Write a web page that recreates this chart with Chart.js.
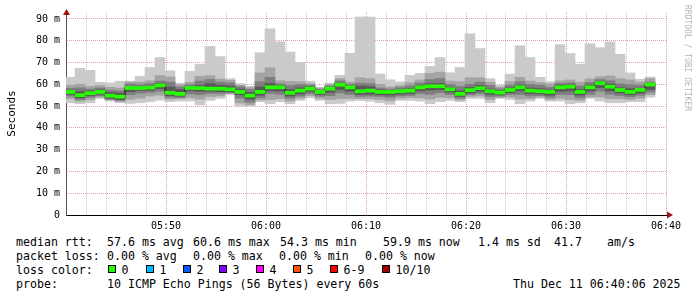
<!DOCTYPE html>
<html>
<head>
<meta charset="utf-8">
<script src="https://cdn.jsdelivr.net/npm/chart.js@4/dist/chart.umd.min.js"></script>
<style>
  body { margin: 0; background: #fff; }
  #wrap { position: relative; width: 697px; height: 297px; overflow: hidden; font-family: "DejaVu Sans Mono", monospace; }
  #chartBox { position: absolute; left: 0; top: 0; width: 697px; height: 232px; }
  .t { position: absolute; font-size: 11.6px; line-height: 14px; white-space: pre; color: #000; }
  .sq { position: absolute; width: 6px; height: 6px; border: 1px solid #000; }
  #credit { position: absolute; left: 682px; top: 5px; writing-mode: vertical-rl; font-size: 8px; line-height: 10px; color: #b4b4b4; white-space: pre; }
</style>
</head>
<body>
<div id="wrap">
  <div id="chartBox"><canvas id="chart"></canvas></div>
  <div id="credit">RRDTOOL / TOBI OETIKER</div>
  <div id="legend"></div>
</div>
<script>
// one bar per minute, 05:40 -> 06:39 (10 pings each, sorted low to high)
const pingMax = [63.2,67.3,66.4,60.9,60.6,61.4,61.4,63.6,67.7,72.3, 66.2,60.5,65.9,69.2,77.4,72.7,62.6,60.3,59.1,74.5, 85.5,79.5,74.8,70.0,61.4,58.6,60.6,64.1,74.2,90.9, 90.9,64.7,62.1,61.1,64.1,65.0,68.2,72.3,65.3,67.7, 83.2,76.4,62.6,59.5,64.7,77.7,72.3,63.2,61.2,78.2, 74.1,69.2,78.6,76.8,79.5,73.8,65.2,62.3,63.3];
const ping9 = [59.6,60.0,59.0,59.4,58.6,58.3,61.0,61.0,61.6,64.0, 63.4,59.8,60.9,63.6,64.0,62.4,61.8,59.6,58.5,65.2, 67.6,61.6,61.3,61.2,60.3,58.2,59.9,62.6,61.0,63.0, 62.6,60.0,58.8,59.4,60.7,62.0,65.0,65.6,61.5,61.2, 63.0,63.0,61.0,58.7,61.3,63.2,61.5,60.8,60.2,61.6, 62.0,61.0,62.5,63.5,63.8,62.6,62.0,61.0,62.6];
const ping8 = [58.2,58.4,57.8,58.3,57.3,57.0,60.1,59.8,60.3,61.5, 61.0,58.8,59.8,61.5,62.2,61.0,60.7,58.9,57.7,61.2, 63.2,60.2,59.4,59.9,59.6,57.6,59.2,61.6,60.0,60.5, 60.3,58.3,57.8,58.5,59.2,60.6,62.2,62.6,59.9,59.0, 60.0,61.0,59.5,57.9,59.6,61.2,60.0,59.6,58.6,60.4, 60.6,59.2,60.8,62.2,61.6,60.2,59.8,59.6,61.0];
const ping7 = [57.3,56.6,56.9,57.4,56.2,56.0,59.0,59.0,59.3,60.4, 58.7,57.6,59.0,59.5,60.3,59.6,59.2,57.8,56.3,58.8, 60.4,59.4,57.6,58.4,58.8,57.1,58.7,60.6,59.3,59.2, 58.9,57.4,57.2,57.6,58.0,59.4,60.3,60.4,58.6,57.0, 58.5,59.4,57.8,57.0,58.3,59.6,58.3,58.0,57.4,59.6, 59.8,57.6,59.6,61.3,60.1,58.4,58.0,58.2,60.2];
const ping6 = [56.8,55.4,56.2,56.9,55.3,54.6,58.6,58.6,58.8,59.8, 56.5,56.0,58.6,58.7,58.4,58.4,58.1,56.9,55.2,56.9, 59.0,59.0,56.5,57.6,58.4,56.9,58.4,60.2,59.0,57.3, 57.5,56.9,56.9,57.2,57.5,59.0,59.5,59.5,58.1,56.0, 57.7,58.6,57.2,56.6,57.8,59.0,57.5,57.2,56.9,59.0, 59.3,56.9,59.0,60.9,59.3,57.8,56.9,57.8,60.3];
const ping5 = [56.2,54.6,55.6,56.1,54.3,53.6,58.0,58.0,58.2,59.2, 55.7,55.2,58.0,57.9,57.6,57.6,57.3,56.1,54.4,56.1, 58.2,58.2,55.7,56.6,57.6,56.1,57.6,59.4,58.2,56.3, 56.7,56.1,56.1,56.4,56.7,58.2,58.7,58.7,57.3,55.2, 56.9,57.8,56.4,55.8,57.0,58.2,56.7,56.4,56.1,58.2, 58.5,56.1,58.2,60.1,58.5,57.0,56.1,57.0,59.5];
const ping4 = [55.4,53.8,54.8,55.4,53.6,53.0,56.6,57.2,57.3,58.0, 54.8,54.5,57.0,56.8,56.8,56.6,56.6,55.2,53.2,55.0, 57.1,56.9,54.6,55.6,56.7,55.4,56.3,57.6,56.8,55.4, 55.5,55.2,55.1,55.5,55.8,57.0,57.4,57.6,56.4,54.4, 56.0,56.8,55.4,55.2,56.1,57.0,55.7,55.6,55.0,56.8, 57.0,55.0,56.9,58.5,57.0,56.0,55.2,56.0,57.6];
const ping3 = [54.6,53.0,54.0,54.7,53.1,52.6,55.2,55.9,56.3,56.8, 54.0,54.0,55.6,55.2,55.8,55.8,56.1,53.6,51.8,53.8, 55.8,55.4,53.6,54.6,55.7,54.5,54.8,56.0,55.3,54.4, 54.6,54.4,54.0,54.6,54.9,55.8,55.4,56.2,55.3,53.6, 55.2,55.8,54.4,54.6,55.3,55.3,54.6,54.8,54.0,55.3, 55.2,53.8,55.4,56.8,55.4,54.8,54.2,55.0,56.4];
const ping2 = [53.4,52.2,52.9,54.1,52.8,52.1,53.1,53.6,54.6,55.0, 53.2,53.4,53.8,53.2,54.3,54.6,55.7,51.4,50.6,52.8, 53.0,53.4,52.3,53.6,54.8,53.5,53.0,53.4,53.5,53.4, 53.4,53.0,52.4,53.6,53.8,53.8,53.2,54.0,53.8,52.8, 54.4,54.6,53.0,54.0,54.1,53.2,53.4,54.1,53.0,53.6, 53.0,52.6,54.2,54.2,53.4,53.3,53.0,53.6,55.2];
const pingMin = [51.5,51.1,51.5,53.5,52.3,51.5,51.2,51.5,52.0,52.7, 52.0,52.3,52.3,50.5,52.6,53.5,55.3,50.0,50.0,52.0, 51.1,52.0,51.1,52.6,53.8,52.6,51.1,51.2,52.3,52.6, 52.3,51.5,50.8,52.6,52.6,52.3,51.1,52.0,52.6,52.0, 53.5,53.5,51.5,53.5,53.0,51.1,52.3,53.5,52.3,52.3, 51.1,51.5,53.5,52.3,51.5,51.5,52.0,52.0,54.1];
const medianRtt = [56.5,55.0,55.9,56.5,54.8,54.3,58.3,58.3,58.5,59.5, 56.1,55.6,58.3,58.3,58.0,58.0,57.7,56.5,54.8,56.5, 58.6,58.6,56.1,57.1,58.0,56.5,58.0,59.8,58.6,56.8, 57.1,56.5,56.5,56.8,57.1,58.6,59.1,59.1,57.7,55.6, 57.3,58.2,56.8,56.2,57.4,58.6,57.1,56.8,56.5,58.6, 58.9,56.5,58.6,60.5,58.9,57.4,56.5,57.4,59.9];

const timeTickMinutes = [10, 20, 30, 40, 50, 60];
const timeTickLabels = ['05:50', '06:00', '06:10', '06:20', '06:30', '06:40'];
const yTickValues = [0, 10, 20, 30, 40, 50, 60, 70, 80, 90];
const yTickLabels = ['0', '10 m', '20 m', '30 m', '40 m', '50 m', '60 m', '70 m', '80 m', '90 m'];

const lossLabels = ['0', '1', '2', '3', '4', '5', '6-9', '10/10'];
const lossColors = ['#26ff00', '#00b8ff', '#0059ff', '#7e00ff', '#ff00ff', '#ff5500', '#ff0000', '#a10000'];

// smoke bands, outermost first
const smokeBands = [[pingMin, pingMax], [ping2, ping9], [ping3, ping8], [ping4, ping7], [ping5, ping6]];
const smokeColors = ['#cacaca', '#a4a4a4', '#7e7e7e', '#585858', '#323232'];

const barShift = 0.4;
const medHalf = 0.7;
const majorGrid = 'rgba(200,70,70,0.5)';
const minorGrid = 'rgba(140,140,140,0.5)';

const datasets = [];
datasets.push({
  label: 'median',
  data: medianRtt.map((m, i) => ({ x: i + barShift, y: [m - medHalf, m + medHalf] })),
  backgroundColor: lossColors[0],
  order: 0
});
datasets.push({
  type: 'line',
  label: 'median step',
  data: medianRtt.map((m, i) => ({ x: i + barShift, y: m })),
  borderColor: '#1a1a1a',
  borderWidth: 1,
  pointRadius: 0,
  stepped: 'middle',
  order: 1
});
smokeBands.forEach(([lo, hi], k) => {
  datasets.push({
    label: 'smoke ' + k,
    data: lo.map((v, i) => ({ x: i + barShift, y: [v, hi[i]] })),
    backgroundColor: smokeColors[k],
    order: 6 - k
  });
});

const arrows = {
  id: 'arrows',
  afterDraw(chart) {
    const { ctx, chartArea: a } = chart;
    ctx.save();
    ctx.fillStyle = '#a01414';
    ctx.beginPath();
    ctx.moveTo(a.left - 3, a.top + 3);
    ctx.lineTo(a.left + 4, a.top + 3);
    ctx.lineTo(a.left + 0.5, a.top - 3);
    ctx.fill();
    ctx.beginPath();
    ctx.moveTo(a.right + 1, a.bottom - 3.5);
    ctx.lineTo(a.right + 1, a.bottom + 3.5);
    ctx.lineTo(a.right + 7, a.bottom);
    ctx.fill();
    ctx.restore();
  }
};

Chart.defaults.font.family = '"DejaVu Sans Mono", monospace';
Chart.defaults.color = '#000';

new Chart(document.getElementById('chart'), {
  type: 'bar',
  data: { datasets },
  options: {
    responsive: true,
    maintainAspectRatio: false,
    devicePixelRatio: 1,
    animation: false,
    layout: { padding: { top: 10, right: 31, left: 0, bottom: 0 } },
    datasets: { bar: { grouped: false, barPercentage: 1, categoryPercentage: 1, borderWidth: 0 } },
    plugins: { legend: { display: false }, tooltip: { enabled: false } },
    scales: {
      x: {
        type: 'linear',
        min: 0,
        max: 60,
        offset: false,
        afterFit: s => { s.height = 17; },
        afterBuildTicks: s => { s.ticks = Array.from({ length: 31 }, (_, i) => ({ value: i * 2 })); },
        ticks: {
          autoSkip: false,
          maxRotation: 0,
          padding: 5,
          font: { size: 10 },
          callback: v => { const j = timeTickMinutes.indexOf(v); return j >= 0 ? timeTickLabels[j] : ''; }
        },
        grid: {
          offset: false,
          drawTicks: false,
          color: c => (c.tick && c.tick.value % 10 === 0 ? majorGrid : minorGrid)
        },
        border: { color: '#000', width: 1, dash: [1, 1] }
      },
      y: {
        min: 0,
        max: 93.18,
        afterFit: s => { s.width = 66; },
        ticks: {
          stepSize: 5,
          includeBounds: false,
          padding: 6,
          font: { size: 10 },
          callback: v => { const j = yTickValues.indexOf(v); return j >= 0 ? yTickLabels[j] : ''; }
        },
        grid: {
          drawTicks: false,
          color: c => (c.tick && c.tick.value % 10 === 0 ? majorGrid : minorGrid)
        },
        border: { color: '#555', width: 1, dash: [1, 1] },
        title: { display: true, text: 'Seconds', font: { size: 11 }, padding: { top: 6, bottom: 0 } }
      }
    }
  },
  plugins: [arrows]
});

// text legend below the graph
const legend = document.getElementById('legend');
function put(text, x, y) {
  const d = document.createElement('div');
  d.className = 't';
  d.style.left = x + 'px';
  d.style.top = y + 'px';
  d.textContent = text;
  legend.appendChild(d);
}
put('median rtt:', 16, 234.6);
put('57.6 ms avg', 107, 234.6);
put('60.6 ms max', 193, 234.6);
put('54.3 ms min', 280, 234.6);
put('59.9 ms now', 383, 234.6);
put('1.4 ms sd', 478, 234.6);
put('41.7', 554, 234.6);
put('am/s', 607, 234.6);

put('packet loss:', 16, 248.6);
put('0.00 % avg', 107, 248.6);
put('0.00 % max', 193, 248.6);
put('0.00 % min', 279, 248.6);
put('0.00 % now', 365, 248.6);

put('loss color:', 16, 262.6);
const squareX = [108, 146, 183, 219, 256, 293, 330, 382];
lossLabels.forEach((lab, i) => {
  const s = document.createElement('div');
  s.className = 'sq';
  s.style.left = squareX[i] + 'px';
  s.style.top = '265px';
  s.style.background = lossColors[i];
  legend.appendChild(s);
  put(lab, squareX[i] + 13.5, 262.6);
});

put('probe:', 16, 276.6);
put('10 ICMP Echo Pings (56 Bytes) every 60s', 107, 276.6);
put('Thu Dec 11 06:40:06 2025', 513, 276.6);
</script>
</body>
</html>
